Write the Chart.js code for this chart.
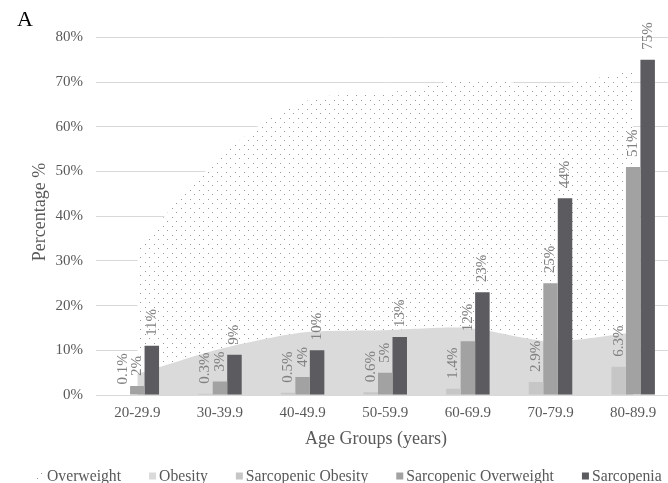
<!DOCTYPE html>
<html>
<head>
<meta charset="utf-8">
<script src="https://cdn.jsdelivr.net/npm/chart.js@4.4.1/dist/chart.umd.min.js"></script>
<style>
  html, body { margin: 0; padding: 0; background: #fff; overflow: hidden; }
  #wrap { width: 668px; height: 483px; overflow: hidden; position: relative; }
  canvas { display: block; }
</style>
</head>
<body>
<div id="wrap"><canvas id="chart" width="700" height="483"></canvas></div>
<script>
// Age groups on the x axis
const ageGroups = ['20-29.9', '30-39.9', '40-49.9', '50-59.9', '60-69.9', '70-79.9', '80-89.9'];

// Prevalence (%) per age group
const overweight           = [33, 53, 65.5, 67.5, 70.5, 69.5, 72.5];
const obesity              = [4.7, 10.3, 14, 14.5, 15, 12, 14];
const sarcopenicObesity    = [0.1, 0.3, 0.5, 0.6, 1.4, 2.9, 6.3];
const sarcopenicOverweight = [2, 3, 4, 5, 12, 25, 51];
const sarcopenia           = [11, 9, 10, 13, 23, 44, 75];

// Y axis ticks (%)
const yTickValues = [0, 10, 20, 30, 40, 50, 60, 70, 80];

const SERIF = "'Liberation Serif', 'Times New Roman', serif";
const TEXT_GREY = '#595959';

const canvas = document.getElementById('chart');
const ctx = canvas.getContext('2d');

// Sparse dot fill used for the overweight area
function dotPattern() {
  const tile = document.createElement('canvas');
  tile.width = 9; tile.height = 9;
  const g = tile.getContext('2d');
  g.fillStyle = '#ffffff';
  g.fillRect(0, 0, 9, 9);
  g.fillStyle = '#9a9a9a';
  g.fillRect(1, 1, 1, 1);
  g.fillRect(5, 5, 1, 1);
  return ctx.createPattern(tile, 'repeat');
}

// Rotated value labels above each bar
const barValueLabels = {
  id: 'barValueLabels',
  afterDatasetsDraw(chart) {
    const c = chart.ctx;
    c.save();
    c.font = '15px ' + SERIF;
    c.fillStyle = '#808080';
    c.textAlign = 'left';
    c.textBaseline = 'middle';
    chart.data.datasets.forEach((ds, i) => {
      if (ds.type !== 'bar') return;
      chart.getDatasetMeta(i).data.forEach((bar, j) => {
        c.save();
        c.translate(bar.x, bar.y - 10);
        c.rotate(-Math.PI / 2);
        c.fillText(ds.data[j] + '%', 0, 0);
        c.restore();
      });
    });
    c.restore();
  }
};

// Axis titles, placed within the space reserved by the scales
const axisTitles = {
  id: 'axisTitles',
  afterDraw(chart) {
    const c = chart.ctx;
    c.save();
    c.font = '18px ' + SERIF;
    c.fillStyle = TEXT_GREY;
    c.textAlign = 'center';
    c.textBaseline = 'alphabetic';
    c.fillText('Age Groups (years)', 376, 443.5);
    c.textBaseline = 'middle';
    c.translate(40, 212);
    c.rotate(-Math.PI / 2);
    c.fillText('Percentage %', 0, 0);
    c.restore();
  }
};

// Single-row legend along the bottom edge
const bottomLegend = {
  id: 'bottomLegend',
  afterDraw(chart) {
    const c = chart.ctx;
    const baseline = 480.5;
    const box = 7;
    const gapText = 3;
    const gapItem = 28;
    let x = 37;
    c.save();
    c.font = '15.7px ' + SERIF;
    c.textBaseline = 'alphabetic';
    c.textAlign = 'left';
    chart.data.datasets.forEach(ds => {
      c.fillStyle = ds.backgroundColor;
      c.fillRect(x, baseline - 8, box, box);
      x += box + gapText;
      c.fillStyle = TEXT_GREY;
      c.fillText(ds.label, x, baseline);
      x += c.measureText(ds.label).width + gapItem;
    });
    c.restore();
  }
};

new Chart(ctx, {
  data: {
    labels: ageGroups,
    datasets: [
      { type: 'line', label: 'Overweight', data: overweight, fill: 'origin',
        backgroundColor: dotPattern(), borderWidth: 0, borderColor: 'rgba(0,0,0,0)',
        pointRadius: 0, tension: 0.4, order: 2 },
      { type: 'line', label: 'Obesity', data: obesity, fill: 'origin',
        backgroundColor: '#dadada', borderWidth: 0, borderColor: 'rgba(0,0,0,0)',
        pointRadius: 0, tension: 0.25, order: 1 },
      { type: 'bar', label: 'Sarcopenic Obesity', data: sarcopenicObesity,
        backgroundColor: '#c6c6c6', order: 0 },
      { type: 'bar', label: 'Sarcopenic Overweight', data: sarcopenicOverweight,
        backgroundColor: '#a2a2a2', order: 0 },
      { type: 'bar', label: 'Sarcopenia', data: sarcopenia,
        backgroundColor: '#5b5b60', order: 0 }
    ]
  },
  options: {
    responsive: false,
    animation: false,
    datasets: { bar: { categoryPercentage: 0.526, barPercentage: 1.0 } },
    layout: { padding: { left: 17, right: 25.5, top: 0, bottom: 30 } },
    plugins: {
      legend: { display: false },
      tooltip: { enabled: false },
      title: {
        display: true, text: 'A', align: 'start', color: '#000000',
        font: { family: SERIF, size: 22, weight: 'normal' },
        padding: { top: 7, bottom: 4 }
      }
    },
    scales: {
      x: {
        offset: true,
        grid: { display: false, drawTicks: false },
        border: { display: true, color: '#d9d9d9' },
        ticks: { color: TEXT_GREY, font: { family: SERIF, size: 15 }, padding: 9, maxRotation: 0 },
        title: { display: false },
        afterFit(scale) { scale.height = 58; }
      },
      y: {
        min: 0, max: 80,
        afterBuildTicks(scale) { scale.ticks = yTickValues.map(v => ({ value: v })); },
        ticks: { color: TEXT_GREY, font: { family: SERIF, size: 15 }, padding: 13,
                 callback: v => v + '%' },
        grid: { color: '#d9d9d9', drawTicks: false },
        border: { display: false },
        title: { display: false },
        afterFit(scale) { scale.width = 79; }
      }
    }
  },
  plugins: [barValueLabels, axisTitles, bottomLegend]
});
</script>
</body>
</html>
